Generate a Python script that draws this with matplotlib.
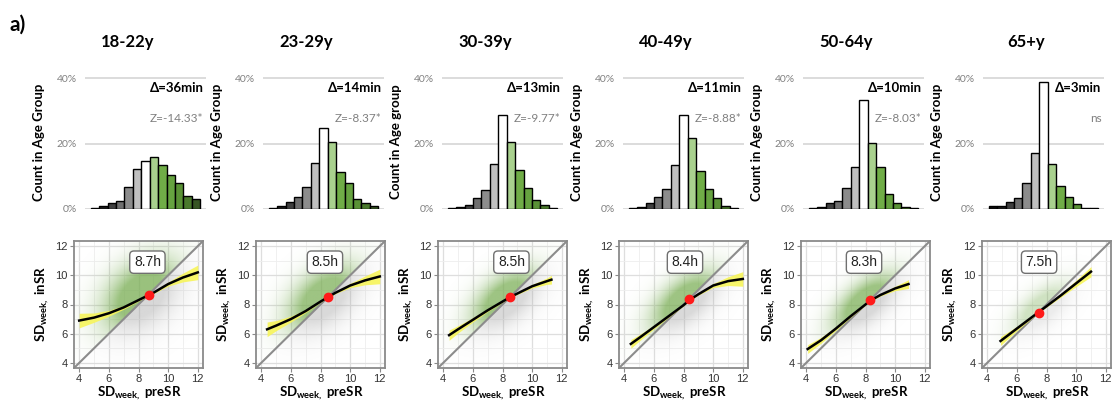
import numpy as np
import matplotlib.pyplot as plt
from matplotlib.colors import to_rgb

plt.rcParams['font.family'] = ['Lato', 'DejaVu Sans']
plt.rcParams['mathtext.fontset'] = 'custom'
plt.rcParams['mathtext.rm'] = 'Lato'
plt.rcParams['mathtext.bf'] = 'Lato:bold'

# ---- data ----
ages = ['18-22y', '23-29y', '30-39y', '40-49y', '50-64y', '65+y']
hist_ylabels = ['Count in Age Group', 'Count in Age Group', 'Count in Age group',
                'Count in Age Group', 'Count in Age Group', 'Count in Age Group']
deltas = ['Δ=36min', 'Δ=14min', 'Δ=13min', 'Δ=11min', 'Δ=10min', 'Δ=3min']
zstats = ['Z=-14.33*', 'Z=-8.37*', 'Z=-9.77*', 'Z=-8.88*', 'Z=-8.03*', 'ns']

# % of age group per bin of change (13 bins, centre = no change)
hist_18_22 = [0.4, 1.0, 1.8, 2.4, 6.7, 12.3, 14.6, 16.0, 13.5, 10.3, 7.9, 4.1, 3.0]
hist_23_29 = [0.4, 0.9, 2.2, 3.6, 6.8, 14.1, 24.6, 20.5, 11.2, 7.8, 3.2, 1.7, 1.0]
hist_30_39 = [0.2, 0.7, 1.2, 3.5, 5.8, 13.8, 28.7, 20.4, 11.8, 6.3, 2.7, 1.2, 0.4]
hist_40_49 = [0.3, 0.7, 1.7, 3.6, 6.1, 13.4, 28.8, 21.8, 11.6, 6.0, 3.5, 0.9, 0.4]
hist_50_64 = [0.3, 0.6, 1.7, 2.4, 6.3, 12.9, 33.2, 20.2, 12.9, 4.5, 1.9, 0.7, 0.3]
hist_65p = [0.9, 1.0, 2.0, 3.5, 8.0, 17.2, 38.8, 13.8, 7.1, 3.7, 1.5, 0.4, 0.2]
hists = [hist_18_22, hist_23_29, hist_30_39, hist_40_49, hist_50_64, hist_65p]

bar_colors = ['#0d0d0d', '#1c1c1c', '#3f3f3f', '#6f6f6f', '#8c8c8c', '#c0c0c0', '#ffffff',
              '#a9d18e', '#70ad47', '#66a340', '#5a9236', '#4a7a2c', '#375623']

# loess fit of SDweek inSR vs preSR, with CI half width
fit_x = [[4, 5, 6, 7, 8, 8.7, 9, 10, 11, 12],
         [4.4, 5, 6, 7, 8, 8.5, 9, 10, 11, 12],
         [4.4, 5, 6, 7, 8, 8.5, 9, 10, 11, 11.3],
         [4.45, 5, 6, 7, 8, 8.4, 9, 10, 11, 12],
         [4.1, 5, 6, 7, 8, 8.3, 9, 10, 10.9],
         [4.9, 6, 7, 7.5, 8, 9, 10, 11]]
fit_y = [[6.9, 7.1, 7.4, 7.8, 8.3, 8.65, 8.8, 9.4, 9.85, 10.2],
         [6.3, 6.55, 7.0, 7.55, 8.2, 8.5, 8.8, 9.3, 9.65, 9.92],
         [5.9, 6.3, 6.95, 7.6, 8.2, 8.5, 8.75, 9.25, 9.6, 9.7],
         [5.3, 5.7, 6.45, 7.2, 7.95, 8.3, 8.7, 9.3, 9.6, 9.75],
         [4.95, 5.55, 6.35, 7.2, 8.0, 8.25, 8.65, 9.1, 9.4],
         [5.5, 6.35, 7.12, 7.5, 7.88, 8.65, 9.45, 10.25]]
fit_ci = [[0.5, 0.32, 0.2, 0.12, 0.06, 0.05, 0.06, 0.14, 0.3, 0.5],
          [0.5, 0.35, 0.2, 0.1, 0.05, 0.04, 0.06, 0.15, 0.3, 0.5],
          [0.35, 0.25, 0.15, 0.08, 0.05, 0.04, 0.06, 0.12, 0.22, 0.3],
          [0.3, 0.22, 0.12, 0.07, 0.05, 0.04, 0.06, 0.14, 0.3, 0.5],
          [0.3, 0.2, 0.12, 0.07, 0.05, 0.04, 0.07, 0.15, 0.3],
          [0.3, 0.15, 0.07, 0.05, 0.06, 0.12, 0.22, 0.35]]

mean_pre = [8.7, 8.5, 8.5, 8.4, 8.3, 7.5]
mean_in = [8.65, 8.5, 8.5, 8.35, 8.3, 7.45]
mean_labels = ['8.7h', '8.5h', '8.5h', '8.4h', '8.3h', '7.5h']
label_x = [8.6, 8.3, 8.6, 8.1, 7.9, 7.5]

# rough shape of the point clouds (centre, spread, correlation, density)
cloud_cx = [8.2, 8.2, 8.2, 8.1, 8.0, 7.7]
cloud_cy = [8.6, 8.4, 8.3, 8.2, 8.1, 7.7]
cloud_sx = [1.7, 1.6, 1.5, 1.5, 1.45, 1.3]
cloud_sy = [1.7, 1.55, 1.4, 1.4, 1.35, 1.2]
cloud_rho = [0.35, 0.45, 0.5, 0.55, 0.6, 0.6]
cloud_amp = [0.75, 0.72, 0.72, 0.72, 0.72, 0.35]

# ---- layout (pixels) ----
W, H = 1112, 403
hist_left = [85, 263, 442, 623, 803, 983]
scat_left = [74, 256, 438, 619, 801, 982]

fig = plt.figure(figsize=(W / 100, H / 100), dpi=100)
fig.text(9 / W, 1 - 25 / H, 'a)', fontsize=15, fontweight='bold', va='center')

lim = (3.65, 12.35)
green = np.array(to_rgb('#78ad52'))
gray = np.array(to_rgb('#a8a8a8'))

for i in range(6):
    hl = hist_left[i]
    fig.text((hl + 43) / W, 1 - 42 / H, ages[i], fontsize=12, fontweight='bold',
             ha='center', va='center')
    fig.text((hl - 46) / W, 1 - 142 / H, hist_ylabels[i], fontsize=9.5, fontweight='bold',
             rotation=90, ha='center', va='center')

    ax = fig.add_axes([hl / W, 1 - 209 / H, 121 / W, 137.5 / H])
    ax.bar(range(13), hists[i], width=1, color=bar_colors, edgecolor='black', linewidth=1.0,
           zorder=3)
    ax.set_xlim(-1.2, 13.2)
    ax.set_ylim(0, 42)
    ax.set_yticks([0, 20, 40])
    ax.set_yticklabels(['0%', '20%', '40%'])
    ax.set_xticks([])
    ax.yaxis.grid(True, color='#d9d9d9', lw=1.3)
    ax.set_axisbelow(True)
    for s in ax.spines.values():
        s.set_visible(False)
    ax.tick_params(axis='y', length=0, labelsize=7.5, labelcolor='#808080', pad=6)
    ax.text(0.98, 37, deltas[i], transform=ax.get_yaxis_transform(), ha='right',
            va='center', fontsize=9.5, fontweight='bold')
    ax.text(0.98, 27.5, zstats[i], transform=ax.get_yaxis_transform(), ha='right',
            va='center', fontsize=8.5, color='#808080')

    # scatter panel
    sl = scat_left[i]
    sx = fig.add_axes([sl / W, 1 - 368 / H, 129 / W, 127 / H])
    sx.set_xlim(lim)
    sx.set_ylim(lim)
    sx.set_xticks([4, 6, 8, 10, 12])
    sx.set_yticks([4, 6, 8, 10, 12])
    sx.set_xticks([5, 7, 9, 11], minor=True)
    sx.set_yticks([5, 7, 9, 11], minor=True)
    sx.grid(True, which='major', color='#dedede', lw=0.9)
    sx.grid(True, which='minor', color='#eeeeee', lw=0.6)
    sx.set_axisbelow(True)
    for s in sx.spines.values():
        s.set_color('#8a8a8a')
        s.set_linewidth(1.3)
    sx.tick_params(which='major', length=3, color='#8a8a8a', pad=1.5, labelsize=8,
                   labelcolor='#333333', labelfontfamily='Liberation Sans')
    sx.tick_params(which='minor', length=0)

    gx, gy = np.meshgrid(np.linspace(lim[0], lim[1], 220), np.linspace(lim[0], lim[1], 220))
    dx = (gx - cloud_cx[i]) / cloud_sx[i]
    dy = (gy - cloud_cy[i]) / cloud_sy[i]
    r = cloud_rho[i]
    q = (dx ** 2 - 2 * r * dx * dy + dy ** 2) / (1 - r ** 2)
    dens = np.clip(1.5 * np.exp(-0.5 * q), 0, 1)
    img = np.zeros(gx.shape + (4,))
    above = gy > gx
    img[above, :3] = green
    img[~above, :3] = gray
    img[..., 3] = cloud_amp[i] * dens * np.where(above, 1.0, 0.6)
    sx.imshow(img, extent=(lim[0], lim[1], lim[0], lim[1]), origin='lower',
              aspect='auto', interpolation='bilinear', zorder=1)

    sx.plot(lim, lim, color='#8c8c8c', lw=1.5, zorder=2)
    fxs = np.array(fit_x[i])
    fys = np.array(fit_y[i])
    cis = np.array(fit_ci[i])
    sx.fill_between(fxs, fys - cis, fys + cis, color='#f7f55a', alpha=0.9, lw=0, zorder=3)
    sx.plot(fxs, fys, color='black', lw=1.8, zorder=4)
    sx.plot(mean_pre[i], mean_in[i], 'o', color='#ff1a1a', ms=6, zorder=5)
    sx.text(label_x[i], 10.9, mean_labels[i], ha='center', va='center', fontsize=10,
            family='Liberation Sans', color='#222222', zorder=6,
            bbox=dict(boxstyle='round,pad=0.3,rounding_size=0.3', fc='white',
                      ec='#707070', lw=1.0))

    fig.text((sl - 32) / W, 1 - 304 / H, r'SD$_{\mathbf{week,}}$ inSR', fontsize=9.5,
             fontweight='bold', rotation=90, ha='center', va='center')
    fig.text((sl + 65) / W, 1 - 402 / H, r'SD$_{\mathbf{week,}}$ preSR', fontsize=9.5,
             fontweight='bold', ha='center', va='bottom')

fig.savefig('out.png', dpi=100)
